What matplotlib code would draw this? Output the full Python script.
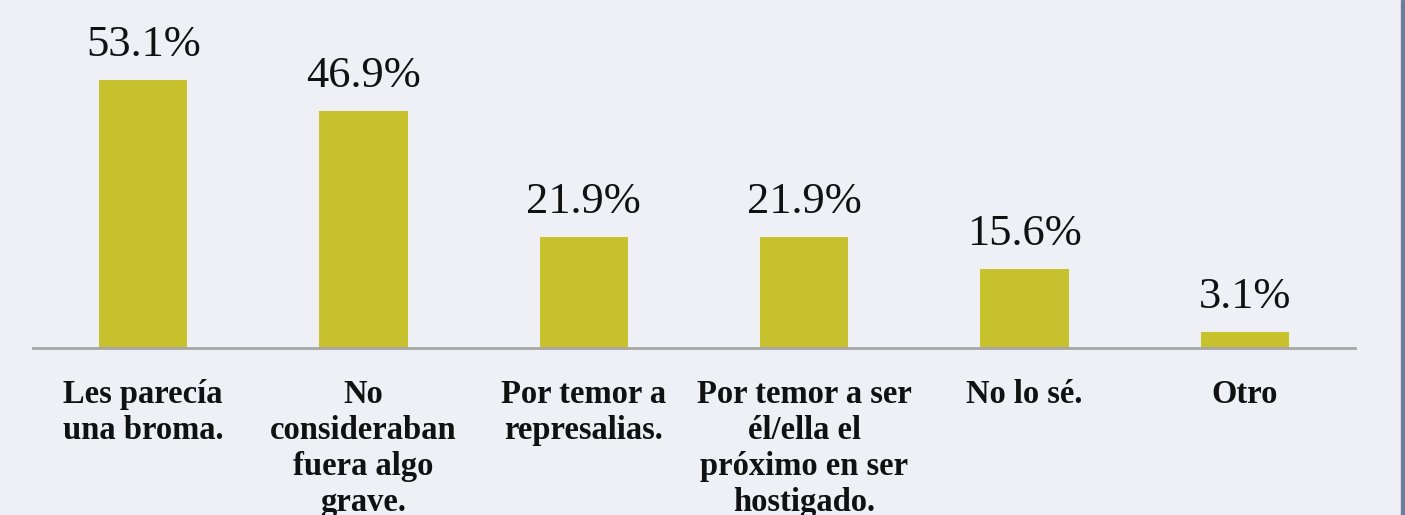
import matplotlib
matplotlib.use("Agg")
from matplotlib import pyplot as plt
from matplotlib.patches import Rectangle

# Datos
categorias = ["Les parecía\nuna broma.",
              "No\nconsideraban\nfuera algo\ngrave.",
              "Por temor a\nrepresalias.",
              "Por temor a ser\nél/ella el\npróximo en ser\nhostigado.",
              "No lo sé.",
              "Otro"]
porcentajes = [53.1, 46.9, 21.9, 21.9, 15.6, 3.1]

fondo = "#EEF0F5"
color_barra = "#C9C22F"

fig = plt.figure(figsize=(14.05, 5.15), dpi=100, facecolor=fondo)
ax = fig.add_axes([33 / 1405, 167 / 515, 1322 / 1405, 348 / 515])
ax.set_facecolor(fondo)

x = range(len(categorias))
barras = ax.bar(x, porcentajes, width=0.4, color=color_barra)

# etiquetas de valor
for xi, v in zip(x, porcentajes):
    ax.text(xi, v + 3.0, f"{v}%", ha="center", va="bottom",
            fontsize=32, family="Liberation Serif", color="#111111")

ax.set_xlim(-0.5, len(categorias) - 0.5)
ax.set_ylim(0, 68.9)
ax.set_yticks([])
ax.set_xticks(list(x))
ax.set_xticklabels(categorias, fontsize=23.5, fontweight="bold",
                   family="Liberation Serif", linespacing=1.21, color="#111111")
ax.tick_params(axis="x", length=0, pad=22)

for s in ["top", "left", "right"]:
    ax.spines[s].set_visible(False)
ax.spines["bottom"].set_color("#A6A6A6")
ax.spines["bottom"].set_linewidth(2)

# borde derecho del marco
fig.patches.append(Rectangle((1401 / 1405, 0), 4 / 1405, 1, transform=fig.transFigure,
                             color="#6E7D95", zorder=5))

fig.savefig("out.png", dpi=100, facecolor=fondo)
